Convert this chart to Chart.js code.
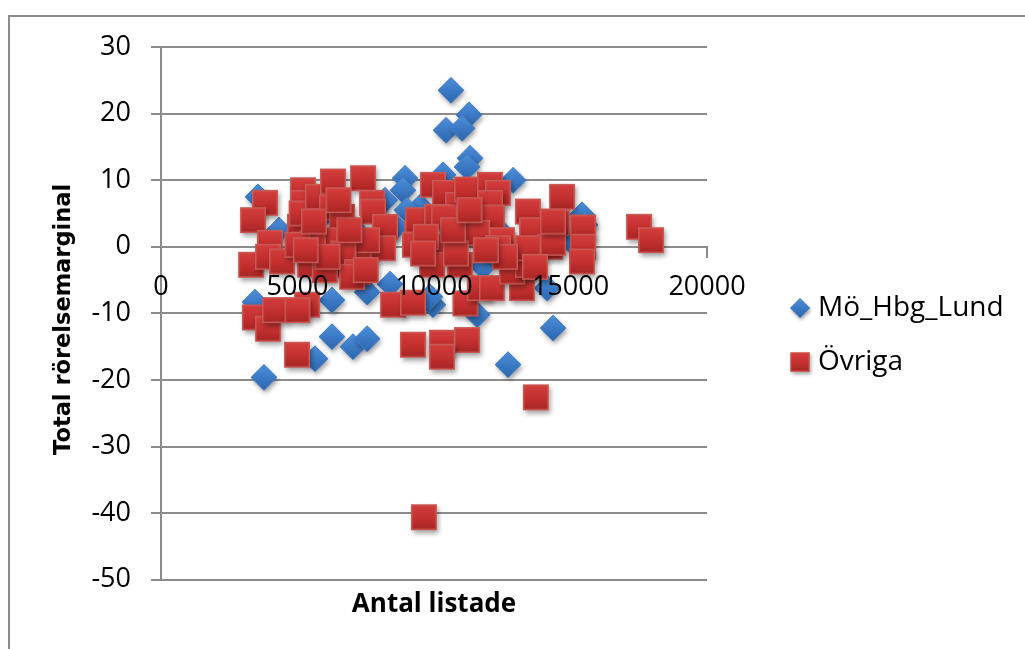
<!DOCTYPE html>
<html>
<head>
<meta charset="utf-8">
<script src="https://cdn.jsdelivr.net/npm/chart.js@4/dist/chart.umd.min.js"></script>
<style>
  html, body { margin: 0; padding: 0; background: #fff; }
  #wrap { position: relative; width: 1025px; height: 649px; overflow: hidden; }
  canvas { display: block; }
</style>
</head>
<body>
<div id="wrap"><canvas id="c" width="1025" height="649"></canvas></div>
<script>
// Antal listade (x) and total rörelsemarginal (y) per company
const moHbgLundX = [10620, 10440, 11280, 11030, 11320, 11210, 10330, 12900, 8940, 8860, 8200, 3550,
  4320, 15420, 15530, 14980, 3440, 6260, 6260, 7030, 7550, 5640, 3770, 8390, 9960, 9850, 11580,
  14360, 12710, 14140, 7550, 12860, 11575, 9500, 7000, 12500, 13500, 10500, 6000, 11800, 9000, 8600];
const moHbgLundY = [23.5, 17.5, 19.8, 17.8, 13.3, 12.0, 10.8, 10.0, 10.3, 8.5, 7.0, 7.5,
  2.5, 4.8, 3.3, 1.0, -8.3, -8.0, -13.5, -15.0, -13.8, -16.8, -19.6, -5.6, -8.7, -7.5, -10.2,
  -12.2, -17.7, -6.2, -6.8, -3.0, 1.5, 6.0, 3.0, 2.0, -1.0, 1.0, 5.0, -3.0, 5.5, 3.0];

const ovrigaX = [3810, 3370, 3990, 3300, 3920, 3440, 3920, 4180, 4980,
  5200, 5200, 5090, 5150, 5750, 6300, 6260, 6630, 6000, 7400, 7730, 7770, 8205, 7180,
  9380, 9415, 9300, 9960, 10400, 10880, 10110, 10370, 11210, 12050, 12340, 12050, 12120, 13440,
  14690, 13590, 14500, 15460, 15460, 15420, 11580, 10220, 12490, 14250, 17510, 17950,
  4430, 5460, 6370, 7360, 5350, 8500, 9230, 9230, 10290, 11210, 10290, 11150, 9930, 10950,
  11680, 12120, 13220, 12860, 13440, 13730, 9630,
  12340, 13440, 14360, 14360, 8130, 7550, 6680, 5560, 5000, 6000, 7180, 10800, 12600, 13700,
  5600, 6900, 7000, 7500, 6100, 5300, 10700, 11300, 9700, 5000, 9600, 6500, 11900];
const ovrigaY = [6.6, 4.0, 0.6, -2.7, -1.5, -10.6, -12.3, -9.5, -16.2,
  8.5, 6.6, 3.0, 5.0, 7.5, 9.8, 5.9, 4.5, 1.0, 10.3, 6.6, 5.3, 3.0, -0.9,
  2.1, 4.0, 0.3, 9.3, 8.1, 6.3, 4.5, 4.4, 8.6, 9.3, 8.1, 6.6, 4.4, 5.3,
  7.5, 2.5, 3.6, 2.9, 0.0, -2.2, 2.1, 0.0, 1.0, 0.0, 3.0, 1.0,
  -2.2, -2.7, -2.7, -2.0, -8.7, -8.7, -8.4, -14.7, -14.4, -14.0, -16.5, -8.5, -2.7, -2.7,
  -6.2, -6.2, -6.2, -3.7, -2.7, -22.6, -40.6,
  -0.2, -0.2, 0.6, 3.8, -0.2, 1.0, -1.0, 0.5, 0.3, -3.5, -3.8, -1.0, -1.5, -3.0,
  3.8, 2.5, -4.5, -3.5, -1.5, -0.5, 2.5, 5.5, 1.5, -9.5, -1.0, 7.0, -0.5];

const seriesNames = ['Mö_Hbg_Lund', 'Övriga'];
const xTitle = 'Antal listade';
const yTitle = 'Total rörelsemarginal';
const xRange = { min: 0, max: 20000, step: 5000 };
const yRange = { min: -50, max: 30, step: 10 };

const GRID = '#8c8c8c';
const TICK_FONT = { family: 'Open Sans', size: 27, lineHeight: 1.2 };

// Marker bitmaps: shaded diamond and square with a soft drop shadow
function diamondMarker(r) {
  const pad = 8, s = Math.ceil(2 * r + 2 * pad);
  const c = document.createElement('canvas');
  c.width = c.height = s;
  const g = c.getContext('2d');
  const m = s / 2;
  const path = () => {
    g.beginPath();
    g.moveTo(m, m - r); g.lineTo(m + r, m); g.lineTo(m, m + r); g.lineTo(m - r, m);
    g.closePath();
  };
  g.save();
  g.shadowColor = 'rgba(0,0,0,0.38)';
  g.shadowBlur = 5; g.shadowOffsetX = 1.5; g.shadowOffsetY = 3;
  path(); g.fillStyle = '#3a74bd'; g.fill();
  g.restore();
  const grad = g.createLinearGradient(0, m - r, 0, m + r);
  grad.addColorStop(0, '#4e8fd9');
  grad.addColorStop(0.5, '#3c7ac6');
  grad.addColorStop(1, '#2d66ac');
  path(); g.fillStyle = grad; g.fill();
  g.lineWidth = 1; g.strokeStyle = 'rgba(70,125,195,0.9)'; g.stroke();
  return c;
}

function squareMarker(h) {
  const pad = 8, s = Math.ceil(2 * h + 2 * pad);
  const c = document.createElement('canvas');
  c.width = c.height = s;
  const g = c.getContext('2d');
  const m = s / 2;
  g.save();
  g.shadowColor = 'rgba(0,0,0,0.38)';
  g.shadowBlur = 5; g.shadowOffsetX = 1.5; g.shadowOffsetY = 3;
  g.fillStyle = '#b83232';
  g.fillRect(m - h, m - h, 2 * h, 2 * h);
  g.restore();
  const grad = g.createLinearGradient(0, m - h, 0, m + h);
  grad.addColorStop(0, '#d43f3d');
  grad.addColorStop(0.55, '#c2302f');
  grad.addColorStop(1, '#a52524');
  g.fillStyle = grad;
  g.fillRect(m - h, m - h, 2 * h, 2 * h);
  g.lineWidth = 1.5; g.strokeStyle = '#c95b57';
  g.strokeRect(m - h + 0.75, m - h + 0.75, 2 * h - 1.5, 2 * h - 1.5);
  return c;
}

const diamondImg = diamondMarker(13);
const squareImg = squareMarker(13);

const toPoints = (xs, ys) => xs.map((x, i) => ({ x, y: ys[i] }));

// Frame around the whole chart and white page background
const framePlugin = {
  id: 'frame',
  beforeDraw(chart) {
    const ctx = chart.ctx;
    ctx.save();
    ctx.fillStyle = '#fff';
    ctx.fillRect(0, 0, chart.width, chart.height);
    ctx.strokeStyle = GRID;
    ctx.lineWidth = 2;
    ctx.strokeRect(9, 16, 1200, 800);
    ctx.restore();
  }
};

// Rotated title of the vertical axis, centred on the plot height
const yTitlePlugin = {
  id: 'yTitle',
  afterDraw(chart) {
    const ctx = chart.ctx;
    const area = chart.chartArea;
    ctx.save();
    ctx.translate(64, (area.top + area.bottom) / 2 + 6);
    ctx.rotate(-Math.PI / 2);
    ctx.font = 'bold 22.5px "DejaVu Sans"';
    ctx.fillStyle = '#000';
    ctx.textAlign = 'center';
    ctx.textBaseline = 'middle';
    ctx.fillText(yTitle, 0, 0);
    ctx.restore();
  }
};

// Legend to the right of the plot, one entry per row
const sideLegend = {
  id: 'sideLegend',
  afterDraw(chart) {
    const ctx = chart.ctx;
    const area = chart.chartArea;
    const markX = area.right + 93;
    const rows = [308, 362];
    const imgs = [diamondImg, squareImg];
    const k = 0.75;
    ctx.save();
    ctx.font = '28px "Open Sans"';
    ctx.fillStyle = '#000';
    ctx.textBaseline = 'middle';
    ctx.textAlign = 'left';
    chart.data.datasets.forEach((ds, i) => {
      const img = imgs[i];
      const w = img.width * k, h = img.height * k;
      ctx.drawImage(img, markX - w / 2, rows[i] - h / 2, w, h);
      ctx.fillText(ds.label, markX + 18, rows[i]);
    });
    ctx.restore();
  }
};

new Chart(document.getElementById('c'), {
  type: 'scatter',
  data: {
    datasets: [
      {
        label: seriesNames[0],
        data: toPoints(moHbgLundX, moHbgLundY),
        pointStyle: diamondImg,
        pointRadius: 13,
        xAxisID: 'x', yAxisID: 'y',
        order: 2
      },
      {
        label: seriesNames[1],
        data: toPoints(ovrigaX, ovrigaY),
        pointStyle: squareImg,
        pointRadius: 13,
        xAxisID: 'x', yAxisID: 'y',
        order: 1
      }
    ]
  },
  options: {
    responsive: false,
    animation: false,
    events: [],
    devicePixelRatio: 1,
    layout: { padding: { left: 20, right: 318, top: 47, bottom: 27 } },
    plugins: {
      legend: { display: false },
      tooltip: { enabled: false }
    },
    scales: {
      // horizontal axis crossing at y = 0; its labels are painted above the markers
      x: {
        type: 'linear',
        position: { y: 0 },
        min: xRange.min, max: xRange.max,
        grid: { drawOnChartArea: false, drawTicks: true, tickLength: 10, color: GRID, lineWidth: 2 },
        border: { display: true, color: GRID, width: 2 },
        ticks: {
          z: 1,
          stepSize: xRange.step, padding: 14, color: '#000', font: TICK_FONT,
          maxRotation: 0, autoSkip: false,
          callback: v => String(v)
        }
      },
      // axis title under the plot
      xb: {
        type: 'linear',
        position: 'bottom',
        min: xRange.min, max: xRange.max,
        grid: { display: false, drawTicks: false },
        border: { display: false },
        ticks: { display: false },
        title: {
          display: true, text: xTitle, color: '#000',
          font: { family: 'Open Sans', size: 26, weight: 'bold', lineHeight: 1.2 },
          padding: { top: 9, bottom: 2 }
        }
      },
      y: {
        type: 'linear',
        position: 'left',
        min: yRange.min, max: yRange.max,
        afterFit(scale) { scale.width = 141; },
        grid: { color: GRID, lineWidth: 2, tickLength: 10 },
        border: { color: GRID, width: 2 },
        ticks: {
          stepSize: yRange.step, padding: 20, color: '#000', font: TICK_FONT,
          callback: v => String(v)
        }
      }
    }
  },
  plugins: [framePlugin, yTitlePlugin, sideLegend]
});
</script>
</body>
</html>
